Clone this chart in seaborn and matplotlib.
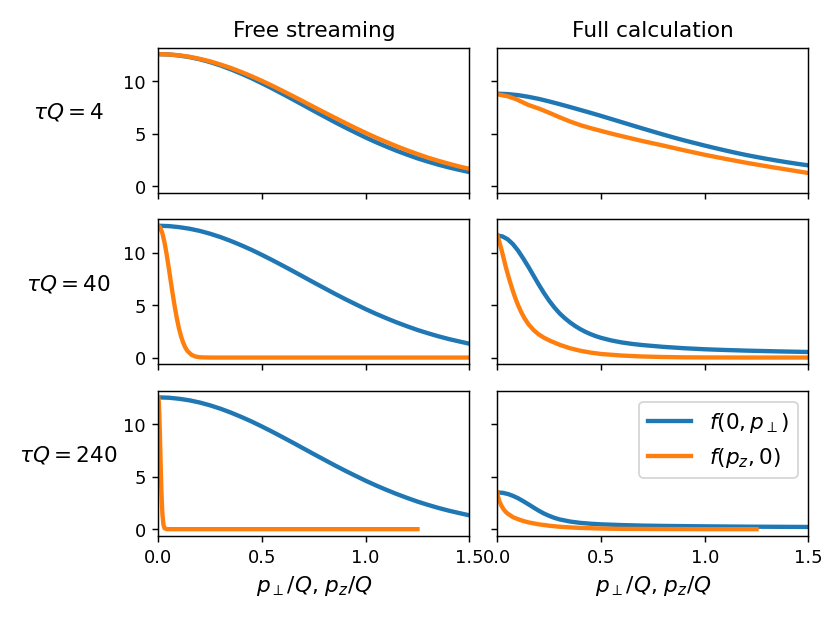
import matplotlib
matplotlib.use("Agg")
import matplotlib.pyplot as plt
import seaborn as sns
import pandas as pd

# ---- data ----
col_titles = ["Free streaming", "Full calculation"]
row_labels = [r"$\tau Q = 4$", r"$\tau Q = 40$", r"$\tau Q = 240$"]
legend_labels = [r"$f(0, p_\perp)$", r"$f(p_z, 0)$"]

# free streaming, f(0, p_perp) - same curve for every tau
fs_x = [0.0, 0.05, 0.1, 0.15, 0.2, 0.25, 0.3, 0.35, 0.4, 0.45, 0.5, 0.55, 0.6, 0.65, 0.7,
        0.75, 0.8, 0.85, 0.9, 0.95, 1.0, 1.05, 1.1, 1.15, 1.2, 1.25, 1.3, 1.35, 1.4, 1.45, 1.5]
fs_perp = [12.57, 12.54, 12.44, 12.29, 12.08, 11.81, 11.49, 11.12, 10.71, 10.27, 9.79, 9.29,
           8.77, 8.24, 7.70, 7.16, 6.63, 6.10, 5.59, 5.10, 4.62, 4.17, 3.75, 3.35, 2.98, 2.63,
           2.32, 2.03, 1.77, 1.54, 1.32]
# free streaming, f(p_z, 0)
fs_z4 = [12.57, 12.54, 12.46, 12.32, 12.12, 11.88, 11.58, 11.25, 10.87, 10.46, 10.02, 9.55,
         9.06, 8.56, 8.05, 7.53, 7.02, 6.52, 6.02, 5.53, 5.06, 4.61, 4.19, 3.78, 3.40, 3.04,
         2.70, 2.40, 2.12, 1.86, 1.63]
fs_z40_x = [0.0, 0.01, 0.02, 0.03, 0.04, 0.05, 0.06, 0.07, 0.08, 0.09, 0.1, 0.11, 0.12, 0.13,
            0.14, 0.16, 0.18, 0.2, 0.22, 0.25, 0.5, 1.0, 1.5]
fs_z40 = [12.57, 12.38, 11.83, 10.98, 9.87, 8.62, 7.29, 5.99, 4.77, 3.68, 2.76, 2.01, 1.42,
          0.97, 0.64, 0.26, 0.09, 0.03, 0.01, 0.0, 0.0, 0.0, 0.0]
fs_z240_x = [0.0, 0.0025, 0.005, 0.0075, 0.01, 0.0125, 0.015, 0.0175, 0.02, 0.025, 0.03, 0.04,
             0.1, 0.5, 1.0, 1.25]
fs_z240 = [12.57, 12.15, 10.96, 9.22, 7.26, 5.37, 3.66, 2.38, 1.40, 0.41, 0.09, 0.0, 0.0, 0.0,
           0.0, 0.0]

# full calculation
fc4_perp_x = [0.0, 0.05, 0.1, 0.15, 0.2, 0.25, 0.3, 0.35, 0.4, 0.45, 0.5, 0.55, 0.6, 0.65, 0.7,
              0.75, 0.8, 0.85, 0.9, 0.95, 1.0, 1.05, 1.1, 1.15, 1.2, 1.25, 1.3, 1.35, 1.4, 1.45,
              1.5]
fc4_perp = [8.80, 8.76, 8.66, 8.50, 8.30, 8.06, 7.80, 7.53, 7.25, 6.97, 6.68, 6.38, 6.08, 5.78,
            5.48, 5.19, 4.90, 4.62, 4.35, 4.10, 3.85, 3.61, 3.38, 3.16, 2.95, 2.76, 2.58, 2.41,
            2.25, 2.10, 1.96]
fc4_z_x = [0.0, 0.05, 0.09, 0.12, 0.15, 0.2, 0.25, 0.3, 0.35, 0.4, 0.45, 0.5, 0.55, 0.6, 0.7,
           0.8, 0.9, 1.0, 1.1, 1.2, 1.3, 1.4, 1.5]
fc4_z = [8.74, 8.55, 8.28, 8.00, 7.72, 7.38, 6.98, 6.55, 6.15, 5.80, 5.51, 5.25, 4.99, 4.75,
         4.28, 3.85, 3.40, 2.97, 2.58, 2.21, 1.87, 1.55, 1.23]

fc40_perp_x = [0.0, 0.025, 0.05, 0.075, 0.1, 0.125, 0.15, 0.175, 0.2, 0.225, 0.25, 0.275, 0.3,
               0.325, 0.35, 0.375, 0.4, 0.425, 0.45, 0.475, 0.5, 0.55, 0.6, 0.65, 0.7, 0.8,
               0.9, 1.0, 1.1, 1.2, 1.35, 1.5]
fc40_perp = [11.65, 11.55, 11.28, 10.82, 10.20, 9.45, 8.65, 7.80, 6.95, 6.15, 5.42, 4.78, 4.22,
             3.76, 3.36, 3.01, 2.71, 2.45, 2.23, 2.04, 1.88, 1.63, 1.44, 1.30, 1.19, 1.02,
             0.89, 0.79, 0.72, 0.66, 0.59, 0.53]
fc40_z_x = [0.0, 0.01, 0.02, 0.03, 0.04, 0.05, 0.06, 0.07, 0.08, 0.09, 0.1, 0.115, 0.13, 0.15,
            0.175, 0.2, 0.225, 0.25, 0.3, 0.35, 0.4, 0.45, 0.5, 0.6, 0.7, 0.8, 0.9, 1.0, 1.2,
            1.5]
fc40_z = [11.65, 11.00, 10.30, 9.50, 8.70, 7.98, 7.30, 6.66, 6.05, 5.50, 5.00, 4.34, 3.78,
          3.18, 2.62, 2.20, 1.89, 1.64, 1.22, 0.89, 0.65, 0.47, 0.34, 0.19, 0.10, 0.05, 0.02,
          0.01, 0.0, 0.0]

fc240_perp_x = [0.0, 0.025, 0.05, 0.075, 0.1, 0.125, 0.15, 0.175, 0.2, 0.225, 0.25, 0.275, 0.3,
                0.35, 0.4, 0.45, 0.5, 0.6, 0.7, 0.8, 1.0, 1.2, 1.5]
fc240_perp = [3.50, 3.47, 3.36, 3.18, 2.95, 2.67, 2.37, 2.06, 1.76, 1.49, 1.27, 1.08, 0.93,
              0.73, 0.60, 0.52, 0.46, 0.39, 0.34, 0.31, 0.27, 0.24, 0.21]
fc240_z_x = [0.0, 0.005, 0.01, 0.02, 0.03, 0.04, 0.05, 0.075, 0.1, 0.125, 0.15, 0.2, 0.25, 0.3,
             0.35, 0.4, 0.5, 0.6, 0.8, 1.0, 1.25]
fc240_z = [3.50, 3.00, 2.66, 2.22, 1.90, 1.66, 1.48, 1.15, 0.95, 0.78, 0.65, 0.46, 0.33, 0.23,
           0.17, 0.12, 0.06, 0.03, 0.01, 0.0, 0.0]

# (x_perp, y_perp, x_z, y_z) per panel [row][col]
panels = [
    [(fs_x, fs_perp, fs_x, fs_z4), (fc4_perp_x, fc4_perp, fc4_z_x, fc4_z)],
    [(fs_x, fs_perp, fs_z40_x, fs_z40), (fc40_perp_x, fc40_perp, fc40_z_x, fc40_z)],
    [(fs_x, fs_perp, fs_z240_x, fs_z240), (fc240_perp_x, fc240_perp, fc240_z_x, fc240_z)],
]

colors = ["#1f77b4", "#ff7f0e"]

fig, axes = plt.subplots(3, 2, sharex=True, sharey=True, figsize=(6.385, 4.79), dpi=130)
fig.subplots_adjust(left=0.1907, right=0.9739, top=0.9225, bottom=0.1385,
                    wspace=0.09, hspace=0.184)

for r in range(3):
    for c in range(2):
        ax = axes[r, c]
        xp, yp, xz, yz = panels[r][c]
        d1 = pd.DataFrame({"p": xp, "f": yp})
        d2 = pd.DataFrame({"p": xz, "f": yz})
        sns.lineplot(data=d1, x="p", y="f", ax=ax, color=colors[0], lw=2.4,
                     label=legend_labels[0], estimator=None, sort=False)
        sns.lineplot(data=d2, x="p", y="f", ax=ax, color=colors[1], lw=2.4,
                     label=legend_labels[1], estimator=None, sort=False)
        if ax.get_legend() is not None:
            ax.get_legend().remove()
        ax.set_xlabel("")
        ax.set_ylabel("")
        ax.set_xlim(0, 1.5)
        ax.set_xticks([0.0, 0.5, 1.0, 1.5])
        ax.set_yticks([0, 5, 10])
        if r == 0:
            ax.set_title(col_titles[c], fontsize=12)
        if r == 2:
            ax.set_xlabel(r"$p_\perp/Q$, $p_z/Q$", fontsize=12)
        if c == 0:
            ax.text(-0.289, 0.485, row_labels[r], transform=ax.transAxes,
                    ha="center", va="bottom", fontsize=12)

axes[2, 1].legend(loc="upper right", fontsize=12)

fig.savefig("out.png", dpi=130)
